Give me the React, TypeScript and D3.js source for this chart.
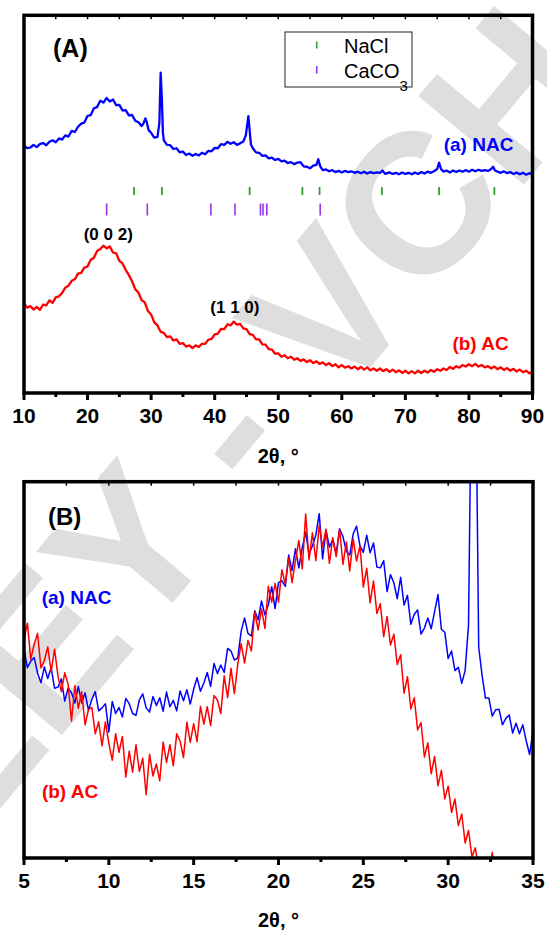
import React from "react";
import * as d3 from "d3";

// ---------- DATA ----------
// Panel A: 2θ (deg) vs intensity (a.u.)
const nacA: [number, number][] = [
  [10.0,65.6],[10.5,64.8],[11.0,65.0],[11.5,65.7],[12.0,65.1],[12.5,65.9],[13.0,66.2],[13.5,65.6],[14.0,66.5],[14.5,66.9],
  [15.0,66.4],[15.5,67.4],[16.0,67.1],[16.5,68.2],[17.0,67.9],[17.5,69.4],[18.0,69.1],[18.5,70.5],[19.0,71.3],[19.5,71.6],
  [20.0,73.4],[20.5,73.6],[21.0,75.4],[21.5,75.7],[22.0,77.4],[22.5,76.9],[23.0,78.1],[23.5,77.2],[24.0,77.7],[24.5,76.2],
  [25.0,76.3],[25.5,74.8],[26.0,74.9],[26.5,73.5],[27.0,73.6],[27.5,72.1],[28.0,71.7],[28.5,70.7],[28.8,71.4],[29.1,72.7],
  [29.3,71.8],[29.6,69.6],[30.0,68.9],[30.5,67.6],[31.0,67.8],[31.3,71.5],[31.5,84.8],[31.7,77.5],[31.85,69.0],[32.0,66.9],
  [32.5,65.7],[33.0,65.6],[33.5,64.6],[34.0,64.8],[34.5,63.7],[35.0,63.9],[35.5,63.0],[36.0,63.4],[36.5,62.8],[37.0,63.3],
  [37.5,62.9],[38.0,63.6],[38.5,63.2],[39.0,64.1],[39.5,64.0],[40.0,64.9],[40.5,64.8],[41.0,65.9],[41.5,65.7],[42.0,66.5],
  [42.5,66.0],[43.0,66.4],[43.5,65.7],[44.0,66.1],[44.5,66.6],[44.9,68.2],[45.1,70.8],[45.3,73.3],[45.5,69.5],[45.7,65.8],
  [46.0,64.8],[46.5,63.7],[47.0,63.6],[47.5,62.8],[48.0,62.9],[48.5,62.1],[49.0,62.3],[49.5,61.7],[50.0,62.0],[50.5,61.3],
  [51.0,61.5],[51.5,60.9],[52.0,61.1],[52.5,60.6],[53.0,61.0],[53.5,61.1],[54.0,60.0],[54.5,59.9],[55.0,59.5],[55.5,60.2],
  [56.0,60.4],[56.3,61.9],[56.6,60.0],[57.0,59.0],[57.5,59.2],[58.0,58.7],[58.5,59.0],[59.0,58.5],[59.5,58.8],[60.0,58.4],
  [60.5,58.8],[61.0,58.5],[61.5,58.7],[62.0,58.3],[62.5,58.6],[63.0,58.2],[63.5,58.6],[64.0,58.1],[64.5,58.5],[65.0,58.2],
  [65.5,58.4],[66.0,58.3],[66.4,58.9],[66.8,58.0],[67.5,58.4],[68.0,58.0],[68.5,58.3],[69.0,57.9],[69.5,58.4],[70.0,58.0],
  [70.5,58.3],[71.0,57.9],[71.5,58.4],[72.0,58.0],[72.5,58.5],[73.0,58.1],[73.5,58.6],[74.0,58.3],[74.5,58.7],[75.0,59.3],
  [75.3,61.0],[75.6,59.3],[76.0,58.6],[76.5,58.9],[77.0,58.4],[77.5,58.9],[78.0,58.5],[78.5,58.9],[79.0,58.6],[79.5,59.0],
  [80.0,58.6],[80.5,59.1],[81.0,58.7],[81.5,59.1],[82.0,58.8],[82.5,59.0],[83.0,58.8],[83.5,59.3],[83.8,59.9],[84.1,58.9],
  [84.5,58.6],[85.0,58.3],[85.5,58.7],[86.0,58.2],[86.5,58.5],[87.0,58.0],[87.5,58.4],[88.0,57.9],[88.5,58.3],[89.0,57.8],
  [89.5,58.2],[90.0,57.9]
];

const acA: [number, number][] = [
  [10.0,23.8],[10.5,22.6],[11.0,23.0],[11.5,22.1],[12.0,22.8],[12.5,22.0],[13.0,23.4],[13.5,23.2],[14.0,24.5],[14.5,23.9],
  [15.0,25.3],[15.5,25.6],[16.0,26.5],[16.5,27.9],[17.0,28.4],[17.5,29.7],[18.0,30.1],[18.5,31.6],[19.0,31.8],[19.5,33.2],
  [20.0,33.5],[20.5,35.3],[21.0,35.8],[21.5,37.6],[22.0,38.1],[22.5,39.0],[23.0,38.3],[23.5,38.8],[24.0,37.2],[24.5,37.0],
  [25.0,35.0],[25.5,34.3],[26.0,32.6],[26.5,31.2],[27.0,29.6],[27.5,27.5],[28.0,26.6],[28.5,24.6],[29.0,24.0],[29.5,21.7],
  [30.0,20.8],[30.5,18.7],[31.0,17.9],[31.5,16.2],[32.0,15.9],[32.5,14.8],[33.0,15.0],[33.5,13.9],[34.0,14.2],[34.5,13.0],
  [35.0,13.2],[35.5,12.3],[36.0,12.6],[36.5,11.9],[37.0,12.6],[37.5,12.2],[38.0,13.0],[38.5,13.0],[39.0,14.1],[39.5,14.3],
  [40.0,15.5],[40.5,15.7],[41.0,17.0],[41.5,16.9],[42.0,18.2],[42.5,17.9],[43.0,18.9],[43.5,18.1],[44.0,18.3],[44.5,17.1],
  [45.0,16.9],[45.5,15.6],[46.0,15.4],[46.5,14.2],[47.0,14.2],[47.5,12.9],[48.0,12.8],[48.5,11.6],[49.0,11.5],[49.5,10.4],
  [50.0,10.5],[50.5,9.6],[51.0,10.0],[51.5,9.2],[52.0,9.6],[52.5,8.8],[53.0,9.2],[53.5,8.5],[54.0,8.9],[54.5,8.2],
  [55.0,8.7],[55.5,7.9],[56.0,8.4],[56.5,7.7],[57.0,8.1],[57.5,7.4],[58.0,7.9],[58.5,7.1],[59.0,7.6],[59.5,6.8],
  [60.0,7.4],[60.5,6.7],[61.0,7.1],[61.5,6.5],[62.0,7.0],[62.5,6.3],[63.0,6.9],[63.5,6.2],[64.0,6.8],[64.5,6.0],
  [65.0,6.5],[65.5,5.9],[66.0,6.5],[66.5,5.8],[67.0,6.3],[67.5,5.6],[68.0,6.2],[68.5,5.5],[69.0,6.0],[69.5,5.3],
  [70.0,5.9],[70.5,5.2],[71.0,5.8],[71.5,5.2],[72.0,5.9],[72.5,5.3],[73.0,5.9],[73.5,5.4],[74.0,6.1],[74.5,5.6],
  [75.0,6.3],[75.5,5.9],[76.0,6.5],[76.5,6.1],[77.0,6.9],[77.5,6.4],[78.0,7.1],[78.5,6.7],[79.0,7.4],[79.5,7.0],
  [80.0,7.6],[80.5,7.1],[81.0,7.7],[81.5,7.0],[82.0,7.4],[82.5,6.8],[83.0,7.1],[83.5,6.5],[84.0,7.0],[84.5,6.3],
  [85.0,6.8],[85.5,6.1],[86.0,6.6],[86.5,5.9],[87.0,6.4],[87.5,5.7],[88.0,6.2],[88.5,5.5],[89.0,5.9],[89.5,5.2],
  [90.0,5.6]
];

// Reference peak positions (2θ)
const naclRefs = [27.3, 31.7, 45.5, 53.8, 56.5, 66.3, 75.3, 84.0];
const caco3Refs = [23.0, 29.4, 39.4, 43.2, 47.2, 47.6, 48.2, 56.6];

// Panel B: 2θ (deg) vs intensity (a.u.)
const nacB: [number, number][] = [
  [5.0,55.4],[5.2,50.6],[5.4,52.3],[5.6,53.3],[5.8,49.1],[6.0,46.6],[6.2,50.8],[6.4,47.7],[6.6,50.6],[6.8,45.1],
  [7.0,45.4],[7.2,47.6],[7.4,41.7],[7.6,45.1],[7.8,43.9],[8.0,41.2],[8.2,45.6],[8.4,41.2],[8.6,43.9],[8.8,39.3],
  [9.0,42.2],[9.2,44.2],[9.4,39.1],[9.6,39.9],[9.8,41.0],[10.0,33.5],[10.2,41.6],[10.4,38.4],[10.6,40.0],[10.8,37.5],
  [11.0,42.4],[11.2,41.0],[11.4,38.4],[11.6,37.9],[11.8,42.0],[12.0,43.6],[12.2,39.9],[12.4,38.8],[12.6,42.9],[12.8,40.5],
  [13.0,42.6],[13.2,39.0],[13.4,44.1],[13.6,40.2],[13.8,41.9],[14.0,39.1],[14.2,44.4],[14.4,41.8],[14.6,44.7],[14.8,40.9],
  [15.0,44.9],[15.2,47.9],[15.4,44.3],[15.6,46.5],[15.8,49.3],[16.0,45.6],[16.2,51.7],[16.4,49.0],[16.6,51.3],[16.8,49.3],
  [17.0,55.7],[17.2,55.0],[17.4,52.6],[17.6,53.2],[17.8,60.3],[18.0,63.8],[18.2,59.7],[18.4,59.0],[18.6,65.7],[18.8,63.3],
  [19.0,68.3],[19.2,64.6],[19.4,67.3],[19.6,72.1],[19.8,66.3],[20.0,73.2],[20.2,73.7],[20.4,72.2],[20.6,80.5],[20.8,76.4],
  [21.0,82.2],[21.2,77.1],[21.4,82.4],[21.6,86.6],[21.8,80.7],[22.0,83.0],[22.2,85.8],[22.4,91.5],[22.6,79.5],[22.8,87.1],
  [23.0,82.6],[23.2,84.7],[23.4,80.8],[23.6,87.5],[23.8,85.4],[24.0,81.5],[24.2,80.5],[24.4,86.1],[24.6,88.2],[24.8,83.0],
  [25.0,81.2],[25.2,85.8],[25.4,81.1],[25.6,83.7],[25.8,77.3],[26.0,77.1],[26.2,79.0],[26.4,70.8],[26.6,75.3],[26.8,73.1],
  [27.0,68.9],[27.2,74.6],[27.4,67.2],[27.6,69.8],[27.8,62.1],[28.0,64.8],[28.2,65.9],[28.4,59.5],[28.6,61.1],[28.8,63.8],
  [29.0,60.9],[29.2,65.5],[29.4,70.0],[29.6,60.8],[29.8,60.0],[30.0,53.0],[30.2,55.0],[30.4,49.8],[30.6,50.7],[30.8,46.4],
  [31.0,49.8],[31.2,62.0],[31.4,140],[31.6,140],[31.8,56.0],[32.0,48.5],[32.2,42.5],[32.4,42.5],[32.6,37.7],[32.8,39.4],
  [33.0,39.5],[33.2,35.4],[33.4,37.1],[33.6,38.0],[33.8,33.2],[34.0,35.8],[34.2,33.0],[34.4,35.4],[34.6,31.1],[34.8,27.5],
  [35.0,33.8]
];

const acB: [number, number][] = [
  [5.0,57.9],[5.2,62.4],[5.4,52.8],[5.6,56.8],[5.8,59.7],[6.0,50.5],[6.2,52.5],[6.4,56.1],[6.6,49.5],[6.8,55.5],
  [7.0,48.4],[7.2,44.2],[7.4,49.2],[7.6,46.2],[7.8,36.4],[8.0,45.8],[8.2,39.8],[8.4,44.2],[8.6,35.4],[8.8,39.4],
  [9.0,40.0],[9.2,33.0],[9.4,36.2],[9.6,29.8],[9.8,36.2],[10.0,30.5],[10.2,26.0],[10.4,33.0],[10.6,28.1],[10.8,32.3],
  [11.0,21.5],[11.2,28.4],[11.4,22.8],[11.6,30.1],[11.8,23.0],[12.0,26.5],[12.2,16.8],[12.4,27.6],[12.6,21.8],[12.8,25.0],
  [13.0,20.5],[13.2,30.8],[13.4,25.4],[13.6,30.1],[13.8,24.5],[14.0,33.0],[14.2,31.1],[14.4,26.7],[14.6,36.1],[14.8,30.7],
  [15.0,35.7],[15.2,30.9],[15.4,40.3],[15.6,35.6],[15.8,40.2],[16.0,35.2],[16.2,43.2],[16.4,42.0],[16.6,38.4],[16.8,48.4],
  [17.0,42.6],[17.2,50.4],[17.4,43.7],[17.6,51.6],[17.8,57.0],[18.0,51.8],[18.2,57.8],[18.4,55.0],[18.6,65.4],[18.8,60.6],
  [19.0,66.2],[19.2,61.0],[19.4,72.2],[19.6,68.0],[19.8,73.0],[20.0,68.0],[20.2,76.6],[20.4,72.8],[20.6,79.8],[20.8,73.2],
  [21.0,79.0],[21.2,84.4],[21.4,76.8],[21.6,91.4],[21.8,79.2],[22.0,86.4],[22.2,79.0],[22.4,88.4],[22.6,82.6],[22.8,87.4],
  [23.0,78.3],[23.2,85.1],[23.4,80.1],[23.6,87.4],[23.8,78.0],[24.0,84.0],[24.2,76.3],[24.4,84.8],[24.6,78.9],[24.8,83.0],
  [25.0,72.0],[25.2,77.0],[25.4,67.8],[25.6,73.6],[25.8,65.0],[26.0,67.6],[26.2,58.8],[26.4,64.2],[26.6,56.6],[26.8,59.5],
  [27.0,51.4],[27.2,54.0],[27.4,43.8],[27.6,48.2],[27.8,39.6],[28.0,42.6],[28.2,34.0],[28.4,36.0],[28.6,26.8],[28.8,30.6],
  [29.0,22.4],[29.2,27.0],[29.4,19.2],[29.6,23.3],[29.8,15.7],[30.0,19.1],[30.2,12.1],[30.4,15.7],[30.6,8.6],[30.8,11.7],
  [31.0,4.0],[31.2,7.3],[31.4,0.3],[31.6,2.7],[31.8,-3.0],[32.0,-2.0],[32.2,-6.0],[32.4,-4.5],[32.6,1.5],[32.8,-6.5],
  [33.0,-8.0]
];

const ticksA = [10, 20, 30, 40, 50, 60, 70, 80, 90];
const minorA = [15, 25, 35, 45, 55, 65, 75, 85];
const ticksB = [5, 10, 15, 20, 25, 30, 35];
const minorB = [7.5, 12.5, 17.5, 22.5, 27.5, 32.5];

// ---------- LAYOUT ----------
const W = 547, H = 930;
const FONT = "'Liberation Sans', Arial, sans-serif";
const BLUE = "#0000ff", RED = "#ff0000";
const GREEN = "#2e9e2e", PURPLE = "#9933ee";

const A = { l: 24, r: 532.5, t: 15.3, b: 393 };
const B = { l: 24, r: 533, t: 481.7, b: 858 };

const xA = d3.scaleLinear().domain([10, 90]).range([A.l, A.r]);
const yA = d3.scaleLinear().domain([0, 100]).range([A.b, A.t]);
const xB = d3.scaleLinear().domain([5, 35]).range([B.l, B.r]);
const yB = d3.scaleLinear().domain([0, 100]).range([B.b, B.t]);

const lineA = d3.line<[number, number]>().x(d => xA(d[0])).y(d => yA(d[1]));
const lineB = d3.line<[number, number]>().x(d => xB(d[0])).y(d => yB(d[1]));

function Frame({ p, x, ticks, minor, topTicks }: any) {
  return (
    <g>
      {topTicks.map((v: number) => (
        <line key={"t" + v} x1={x(v)} x2={x(v)} y1={p.t} y2={p.t + 4} stroke="#000" strokeWidth={1.5} />
      ))}
      {ticks.map((v: number) => (
        <line key={"M" + v} x1={x(v)} x2={x(v)} y1={p.b} y2={p.b + 7} stroke="#000" strokeWidth={3} />
      ))}
      {minor.map((v: number) => (
        <line key={"m" + v} x1={x(v)} x2={x(v)} y1={p.b} y2={p.b + 4} stroke="#000" strokeWidth={3} />
      ))}
      <rect x={p.l} y={p.t} width={p.r - p.l} height={p.b - p.t} fill="none" stroke="#000" strokeWidth={3.5} />
      {ticks.map((v: number) => (
        <text key={"L" + v} x={x(v)} y={p.b + 30} textAnchor="middle" fontFamily={FONT} fontWeight="bold" fontSize={21}>{v}</text>
      ))}
    </g>
  );
}

export default function App() {
  const topTicksA = d3.range(15, 90, 5);
  const topTicksB = d3.range(7.5, 35, 2.5);
  return (
    <svg width={W} height={H} style={{ position: "absolute", left: 0, top: 0, background: "#fff" }}>
      <defs>
        <clipPath id="clipA"><rect x={A.l} y={A.t} width={A.r - A.l} height={A.b - A.t} /></clipPath>
        <clipPath id="clipB"><rect x={B.l} y={B.t} width={B.r - B.l} height={B.b - B.t} /></clipPath>
      </defs>
      <rect x={0} y={0} width={W} height={H} fill="#fff" />
      {/* watermark */}
      <text x={608} y={84} textAnchor="end" fontFamily={FONT} fontWeight="bold" fontSize={200}
        fill="#dedede" transform="rotate(-50, 608, 84)">WILEY - VCH</text>

      {/* Panel A */}
      <rect x={285} y={32} width={127} height={55} fill="#fff" stroke="#222" strokeWidth={1} />
      <line x1={316.7} x2={316.7} y1={41.5} y2={48.5} stroke={GREEN} strokeWidth={1.6} />
      <line x1={316.7} x2={316.7} y1={66} y2={73.5} stroke={PURPLE} strokeWidth={1.6} />
      <text x={344} y={53.3} fontFamily={FONT} fontSize={20}>NaCl</text>
      <text x={344} y={77.7} fontFamily={FONT} fontSize={20}>CaCO<tspan fontSize={15} dy={13}>3</tspan></text>

      <g clipPath="url(#clipA)">
        <path d={lineA(nacA) || ""} fill="none" stroke={BLUE} strokeWidth={2.3} strokeLinejoin="round" />
        <path d={lineA(acA) || ""} fill="none" stroke={RED} strokeWidth={2.3} strokeLinejoin="round" />
        {naclRefs.map(v => (
          <line key={"n" + v} x1={xA(v)} x2={xA(v)} y1={187} y2={195} stroke={GREEN} strokeWidth={1.8} />
        ))}
        {caco3Refs.map(v => (
          <line key={"c" + v} x1={xA(v)} x2={xA(v)} y1={203.5} y2={215.5} stroke={PURPLE} strokeWidth={1.6} />
        ))}
      </g>
      <Frame p={A} x={xA} ticks={ticksA} minor={minorA} topTicks={topTicksA} />
      <text x={53} y={57} fontFamily={FONT} fontWeight="bold" fontSize={25}>(A)</text>
      <text x={443.7} y={151} fontFamily={FONT} fontWeight="bold" fontSize={19} fill={BLUE}>(a) NAC</text>
      <text x={452.4} y={350} fontFamily={FONT} fontWeight="bold" fontSize={19} fill={RED}>(b) AC</text>
      <text x={83.7} y={240} fontFamily={FONT} fontWeight="bold" fontSize={17}>(0 0 2)</text>
      <text x={210.3} y={313} fontFamily={FONT} fontWeight="bold" fontSize={17}>(1 1 0)</text>
      <text x={(A.l + A.r) / 2} y={463} textAnchor="middle" fontFamily={FONT} fontWeight="bold" fontSize={20}>2θ, °</text>

      {/* Panel B */}
      <g clipPath="url(#clipB)">
        <path d={lineB(nacB) || ""} fill="none" stroke={BLUE} strokeWidth={1.5} strokeLinejoin="round" />
        <path d={lineB(acB) || ""} fill="none" stroke={RED} strokeWidth={1.5} strokeLinejoin="round" />
      </g>
      <Frame p={B} x={xB} ticks={ticksB} minor={minorB} topTicks={topTicksB} />
      <text x={48} y={525} fontFamily={FONT} fontWeight="bold" fontSize={24}>(B)</text>
      <text x={41.7} y={603.5} fontFamily={FONT} fontWeight="bold" fontSize={19} fill={BLUE}>(a) NAC</text>
      <text x={41.9} y={798} fontFamily={FONT} fontWeight="bold" fontSize={19} fill={RED}>(b) AC</text>
      <text x={(B.l + B.r) / 2} y={927} textAnchor="middle" fontFamily={FONT} fontWeight="bold" fontSize={20}>2θ, °</text>
    </svg>
  );
}
